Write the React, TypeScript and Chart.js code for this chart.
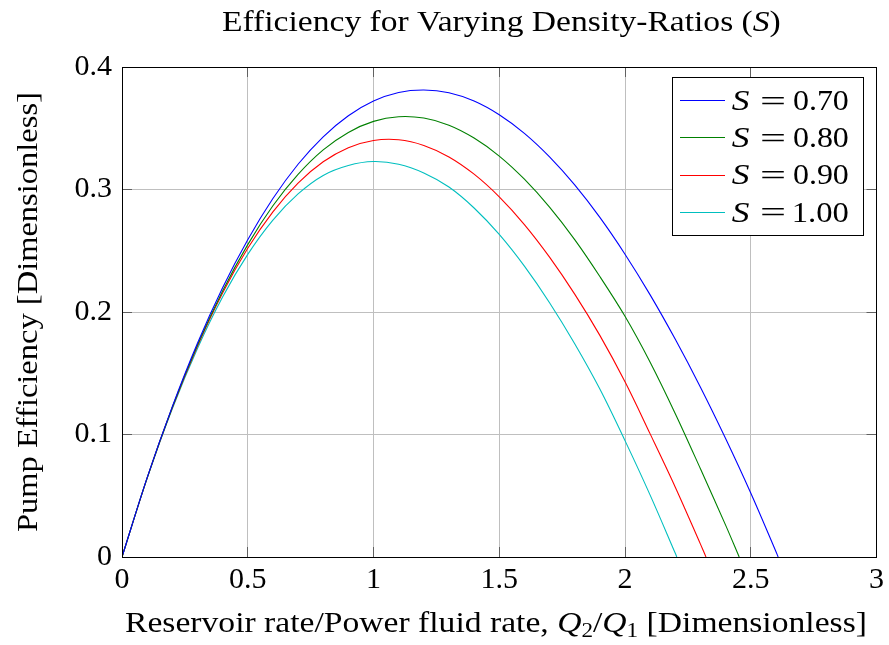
import React, { useEffect, useRef } from 'react';
import { Chart, registerables } from 'chart.js';

Chart.register(...registerables);

// ---------- data ----------
const xSteps = [
  0, 0.1, 0.2, 0.3, 0.4, 0.5, 0.6, 0.7, 0.8, 0.9, 1.0, 1.1, 1.2, 1.3,
  1.4, 1.5, 1.6, 1.7, 1.8, 1.9, 2.0, 2.1, 2.2, 2.3, 2.4, 2.5, 2.6,
];

const effS070 = [
  0, 0.0648, 0.1228, 0.1745, 0.2198, 0.259, 0.2926, 0.3206, 0.343, 0.3602,
  0.3722, 0.3792, 0.3812, 0.379, 0.3722, 0.361, 0.3458, 0.3266, 0.3037,
  0.2772, 0.2472, 0.214, 0.1777, 0.1386, 0.0967, 0.0522, 0.0045,
];
const effS080 = [
  0, 0.0646, 0.1222, 0.173, 0.2172, 0.255, 0.2867, 0.3123, 0.3323, 0.3466,
  0.3556, 0.3594, 0.3583, 0.3525, 0.342, 0.3273, 0.3084, 0.2856, 0.2591,
  0.229, 0.1965, 0.159, 0.117, 0.072, 0.026,
];
const effS090 = [
  0, 0.0644, 0.1218, 0.172, 0.2155, 0.252, 0.2818, 0.3052, 0.3226, 0.3341,
  0.34, 0.3406, 0.336, 0.3266, 0.3125, 0.294, 0.2714, 0.2448, 0.2146,
  0.1809, 0.143, 0.1005, 0.057, 0.0105,
];
const effS100 = [
  0, 0.0642, 0.121, 0.1702, 0.2122, 0.247, 0.275, 0.2964, 0.3115, 0.3196,
  0.3228, 0.3206, 0.3135, 0.302, 0.2849, 0.2633, 0.2374, 0.2076, 0.1741,
  0.1371, 0.095, 0.0505, 0.003,
];
// x where each curve returns to zero
const zeroCrossings = [2.609, 2.454, 2.322, 2.206];

const seriesLabels = ['S = 0.70', 'S = 0.80', 'S = 0.90', 'S = 1.00'];
const seriesColors = ['#0000ff', '#008000', '#ff0000', '#00bfbf'];
const seriesValues = [effS070, effS080, effS090, effS100];

const titleText = 'Efficiency for Varying Density-Ratios (';
const titleVar = 'S';
const xTitleStart = 'Reservoir rate/Power fluid rate, ';
const xTitleEnd = ' [Dimensionless]';
const yTitleText = 'Pump Efficiency [Dimensionless]';

// ---------- styling ----------
const SERIF = "'Liberation Serif', 'Times New Roman', serif";
const FS = 29;
const TICK_FS = 30;
const F_REG = `${FS}px ${SERIF}`;
const F_IT = `italic ${FS}px ${SERIF}`;
const F_SUB = `20px ${SERIF}`;

type Seg = { text: string; font: string; dy?: number };

function drawRichFit(ctx: CanvasRenderingContext2D, segs: Seg[], x0: number, x1: number, baseline: number) {
  const ms = segs.map((s) => {
    ctx.font = s.font;
    return ctx.measureText(s.text);
  });
  const total = ms.reduce((a, m) => a + m.width, 0);
  const inkL = -ms[0].actualBoundingBoxLeft;
  const last = ms[ms.length - 1];
  const inkR = total - last.width + last.actualBoundingBoxRight;
  const s = (x1 - x0) / (inkR - inkL);
  ctx.save();
  ctx.textAlign = 'left';
  ctx.textBaseline = 'alphabetic';
  ctx.fillStyle = '#000';
  ctx.translate(x0 - s * inkL, baseline);
  ctx.scale(s, 1);
  let x = 0;
  segs.forEach((seg, i) => {
    ctx.font = seg.font;
    ctx.fillText(seg.text, x, seg.dy || 0);
    x += ms[i].width;
  });
  ctx.restore();
}

const pgfPlugin = {
  id: 'pgfLook',
  beforeDatasetsDraw(chart: any) {
    const ctx: CanvasRenderingContext2D = chart.ctx;
    const { left, right, top, bottom } = chart.chartArea;
    const xs = chart.scales.x;
    const ys = chart.scales.y;
    const TL = 10;
    ctx.save();
    ctx.strokeStyle = '#606060';
    ctx.lineWidth = 1;
    ctx.beginPath();
    xs.ticks.forEach((t: any) => {
      const px = Math.floor(xs.getPixelForValue(t.value)) + 0.5;
      ctx.moveTo(px, bottom);
      ctx.lineTo(px, bottom - TL);
      ctx.moveTo(px, top);
      ctx.lineTo(px, top + TL);
    });
    ys.ticks.forEach((t: any) => {
      const py = Math.floor(ys.getPixelForValue(t.value)) + 0.5;
      ctx.moveTo(left, py);
      ctx.lineTo(left + TL, py);
      ctx.moveTo(right, py);
      ctx.lineTo(right - TL, py);
    });
    ctx.stroke();
    ctx.restore();
  },
  afterDatasetsDraw(chart: any) {
    const ctx: CanvasRenderingContext2D = chart.ctx;
    const { left, right, top, bottom } = chart.chartArea;
    ctx.save();
    ctx.strokeStyle = '#000';
    ctx.lineWidth = 1;
    const l = Math.floor(left) + 0.5;
    const t = Math.floor(top) + 0.5;
    const r = Math.floor(right) + 0.5;
    const b = Math.floor(bottom) + 0.5;
    ctx.strokeRect(l, t, r - l, b - t);
    ctx.restore();
  },
  afterDraw(chart: any) {
    const ctx: CanvasRenderingContext2D = chart.ctx;
    // title
    drawRichFit(ctx, [
      { text: titleText, font: F_REG },
      { text: titleVar, font: F_IT },
      { text: ')', font: F_REG },
    ], 222, 780, 31);
    // x title
    drawRichFit(ctx, [
      { text: xTitleStart, font: F_REG },
      { text: 'Q', font: F_IT },
      { text: '2', font: F_SUB, dy: 5 },
      { text: '/', font: F_REG },
      { text: 'Q', font: F_IT },
      { text: '1', font: F_SUB, dy: 5 },
      { text: xTitleEnd, font: F_REG },
    ], 125, 865, 632);
    // y title
    ctx.save();
    ctx.translate(37, 532);
    ctx.rotate(-Math.PI / 2);
    drawRichFit(ctx, [{ text: yTitleText, font: F_REG }], 0, 438, 0);
    ctx.restore();

    // legend
    const bx = 672.5, by = 77.5, bw = 191, bh = 158;
    ctx.save();
    ctx.fillStyle = '#fff';
    ctx.fillRect(bx, by, bw, bh);
    ctx.strokeStyle = '#000';
    ctx.lineWidth = 1;
    ctx.strokeRect(bx, by, bw, bh);
    chart.data.datasets.forEach((ds: any, i: number) => {
      const cy = 100.7 + i * 37.2;
      ctx.strokeStyle = seriesColors[i];
      ctx.lineWidth = 1.1;
      ctx.beginPath();
      ctx.moveTo(680, Math.floor(cy) + 0.5);
      ctx.lineTo(725, Math.floor(cy) + 0.5);
      ctx.stroke();
      const parts = String(ds.label).split(' = ');
      const base = cy + 9.3;
      drawRichFit(ctx, [{ text: parts[0], font: F_IT }], 731.7, 750, base);
      drawRichFit(ctx, [{ text: '=', font: F_REG }], 761.7, 784, base + 0.5);
      drawRichFit(ctx, [{ text: parts[1], font: F_REG }], 794, 848.3, base);
    });
    ctx.restore();
  },
};

const fmt = (v: number) => {
  const r = Math.round(v * 10) / 10;
  return r === 0 ? '0' : String(r);
};

export default function App() {
  const ref = useRef<HTMLCanvasElement | null>(null);

  useEffect(() => {
    if (!ref.current) return;
    const datasets = seriesValues.map((vals, i) => ({
      label: seriesLabels[i],
      data: vals
        .map((y, j) => ({ x: xSteps[j], y }))
        .concat([{ x: zeroCrossings[i], y: 0 }]),
      borderColor: seriesColors[i],
      backgroundColor: seriesColors[i],
      borderWidth: 1.1,
      pointRadius: 0,
      fill: false,
      tension: 0.35,
    }));

    const chart = new Chart(ref.current, {
      type: 'line',
      data: { datasets },
      options: {
        animation: false,
        responsive: false,
        devicePixelRatio: 1,
        layout: { padding: { top: 67, right: 11, left: 0, bottom: 0 } },
        plugins: {
          legend: { display: false },
          title: { display: false },
          tooltip: { enabled: false },
        },
        scales: {
          x: {
            type: 'linear',
            min: 0,
            max: 3,
            border: { display: false },
            grid: { color: '#bfbfbf', lineWidth: 1, drawTicks: false },
            ticks: {
              stepSize: 0.5,
              padding: 5,
              color: '#000',
              font: { family: SERIF, size: TICK_FS },
              maxRotation: 0,
              callback: (v: any) => fmt(Number(v)),
            },
            afterFit: (scale: any) => { scale.height = 88; },
          },
          y: {
            type: 'linear',
            min: 0,
            max: 0.4,
            border: { display: false },
            grid: { color: '#bfbfbf', lineWidth: 1, drawTicks: false },
            ticks: {
              stepSize: 0.1,
              padding: 10,
              color: '#000',
              font: { family: SERIF, size: TICK_FS },
              callback: (v: any) => fmt(Number(v)),
            },
            afterFit: (scale: any) => { scale.width = 122; },
          },
        },
      },
      plugins: [pgfPlugin],
    });
    return () => chart.destroy();
  }, []);

  return (
    <div style={{ position: 'absolute', left: 0, top: 0, width: 889, height: 645, background: '#fff' }}>
      <canvas ref={ref} width={889} height={645} style={{ width: 889, height: 645, display: 'block' }} />
    </div>
  );
}
